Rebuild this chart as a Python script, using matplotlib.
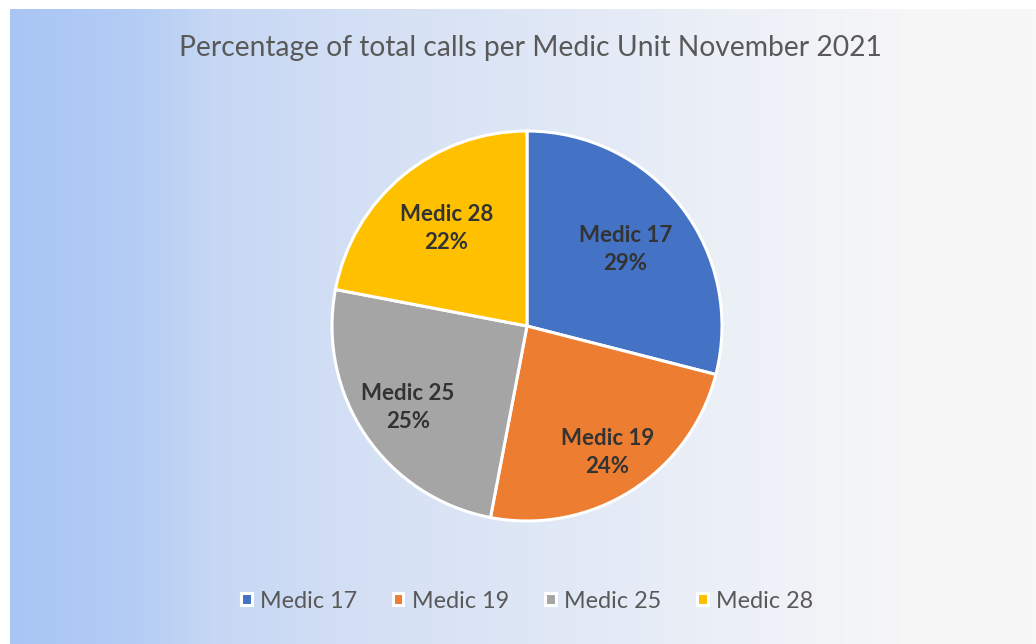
import numpy as np
import matplotlib
matplotlib.use("Agg")
from matplotlib import pyplot as plt
from matplotlib.colors import LinearSegmentedColormap

labels = ["Medic 17", "Medic 19", "Medic 25", "Medic 28"]
shares = [29, 24, 25, 22]
colors = ["#4472c4", "#ed7d31", "#a5a5a5", "#ffc000"]
title = "Percentage of total calls per Medic Unit November 2021"
# how far out each data label sits (fraction of radius), like Excel's best fit
label_dist = [0.64, 0.77, 0.74, 0.65]

plt.rcParams["font.family"] = ["Lato", "DejaVu Sans"]

fig = plt.figure(figsize=(10.36, 6.44), dpi=100)
fig.patch.set_facecolor("white")

# scanned-looking background: blue on the left fading to white
bg = fig.add_axes([10 / 1036, 0, 1 - 10 / 1036, 1 - 9 / 644])
cmap = LinearSegmentedColormap.from_list(
    "bg", [(0, "#a8c5f4"), (0.12, "#b4cdf4"), (0.2, "#c6d8f4"),
           (0.33, "#d3dff4"), (0.7, "#ecf0f7"), (0.87, "#f6f6f7"),
           (1, "#f8f8f8")])
bg.imshow(np.linspace(0, 1, 256)[None, :], aspect="auto", cmap=cmap,
          extent=[0, 1, 0, 1])
bg.axis("off")

ax = fig.add_axes([(527 - 200) / 1036, (644 - 326 - 200) / 644,
                   400 / 1036, 400 / 644])
ax.set_zorder(2)
r = 195 / 200
wedges, texts = ax.pie(
    shares, colors=colors, startangle=90, counterclock=False, radius=r,
    wedgeprops=dict(edgecolor="white", linewidth=2.2))
for i, w in enumerate(wedges):
    mid = np.deg2rad((w.theta1 + w.theta2) / 2)
    d = label_dist[i] * r
    ax.text(d * np.cos(mid), d * np.sin(mid), f"{labels[i]}\n{shares[i]}%",
            ha="center", va="center", fontsize=16, fontweight="bold",
            color="#333333", linespacing=1.4)
ax.set_xlim(-1, 1)
ax.set_ylim(-1, 1)
ax.set_aspect("equal")

fig.text(530 / 1036, 1 - 48 / 644, title, ha="center", va="center",
         fontsize=20.3, color="#595959")

leg = fig.legend(wedges, labels, loc="center", ncol=4,
                 bbox_to_anchor=(527 / 1036, 1 - 601 / 644),
                 frameon=False, fontsize=16.8, handlelength=0.45,
                 handleheight=0.45, handletextpad=0.35, columnspacing=1.55)
for txt in leg.get_texts():
    txt.set_color("#595959")

fig.savefig("out.png", dpi=100)
